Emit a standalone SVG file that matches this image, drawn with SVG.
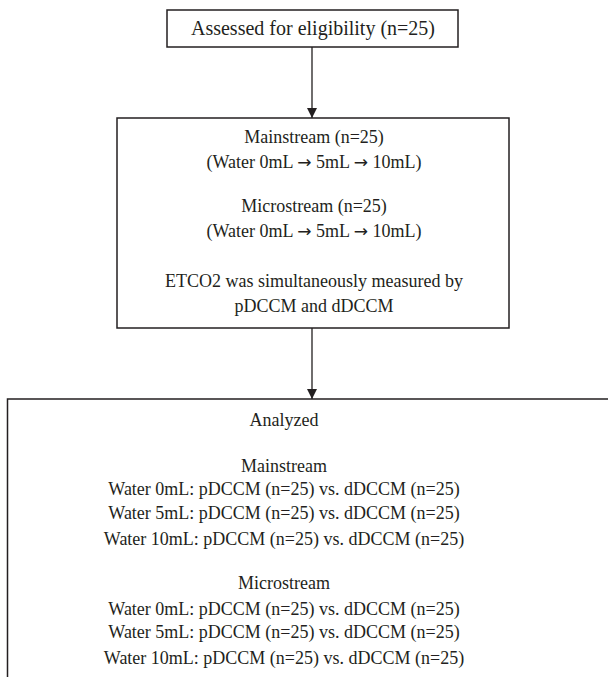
<svg xmlns="http://www.w3.org/2000/svg" width="608" height="677" viewBox="0 0 608 677">
<style>
.box{fill:#fff;stroke:#231f20;stroke-width:1.5}
.t{font-family:"Liberation Serif","Times New Roman",serif;font-size:18px;fill:#231f20;text-anchor:middle}
.ar{font-family:"DejaVu Sans",sans-serif;font-size:17px}
.c{stroke:#231f20;stroke-width:1.3;fill:none}
</style>
<defs>
<marker id="ah" viewBox="0 0 10 10" refX="10" refY="5" markerWidth="10" markerHeight="10" markerUnits="userSpaceOnUse" orient="auto">
<path d="M0,0 L10,5 L0,10 z" fill="#231f20"/>
</marker>
</defs>
<rect width="608" height="677" fill="#fff"/>
<g id="connectors">
<line class="c" x1="312" y1="47" x2="312" y2="118" marker-end="url(#ah)"/>
<line class="c" x1="312" y1="328" x2="312" y2="399" marker-end="url(#ah)"/>
</g>
<g id="node-assessed">
<rect class="box" x="167" y="10" width="291" height="37"/>
<text class="t" x="313" y="35" style="font-size:20px">Assessed for eligibility (n=25)</text>
</g>
<g id="node-streams">
<rect class="box" x="117" y="118" width="392" height="210"/>
<text class="t" x="314" y="143">Mainstream (n=25)</text>
<text class="t" x="314" y="168">(Water 0mL <tspan class="ar">→</tspan> 5mL <tspan class="ar">→</tspan> 10mL)</text>
<text class="t" x="314" y="212">Microstream (n=25)</text>
<text class="t" x="314" y="237">(Water 0mL <tspan class="ar">→</tspan> 5mL <tspan class="ar">→</tspan> 10mL)</text>
<text class="t" x="314" y="287">ETCO2 was simultaneously measured by</text>
<text class="t" x="314" y="312">pDCCM and dDCCM</text>
</g>
<g id="node-analyzed">
<rect class="box" x="7.5" y="399" width="620" height="300"/>
<text class="t" x="284" y="426">Analyzed</text>
<text class="t" x="284" y="472">Mainstream</text>
<text class="t" x="284" y="495">Water 0mL: pDCCM (n=25) vs. dDCCM (n=25)</text>
<text class="t" x="284" y="519">Water 5mL: pDCCM (n=25) vs. dDCCM (n=25)</text>
<text class="t" x="284" y="545">Water 10mL: pDCCM (n=25) vs. dDCCM (n=25)</text>
<text class="t" x="284" y="589">Microstream</text>
<text class="t" x="284" y="615">Water 0mL: pDCCM (n=25) vs. dDCCM (n=25)</text>
<text class="t" x="284" y="638">Water 5mL: pDCCM (n=25) vs. dDCCM (n=25)</text>
<text class="t" x="284" y="664">Water 10mL: pDCCM (n=25) vs. dDCCM (n=25)</text>
</g>
</svg>
